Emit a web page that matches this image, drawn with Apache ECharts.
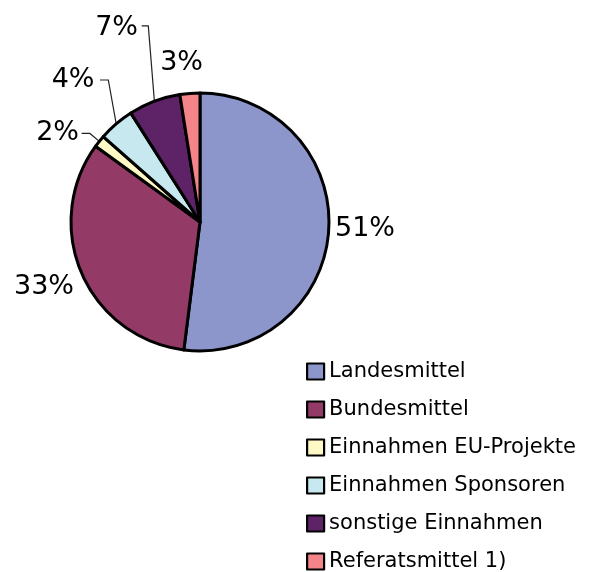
<!DOCTYPE html>
<html>
<head>
<meta charset="utf-8">
<script src="https://cdn.jsdelivr.net/npm/echarts@6/dist/echarts.min.js"></script>
<style>
html,body{margin:0;padding:0;background:#fff;}
#chart{width:600px;height:572px;}
</style>
</head>
<body>
<div id="chart"></div>
<script>
// ---- data ----
var categories = ['Landesmittel', 'Bundesmittel', 'Einnahmen EU-Projekte', 'Einnahmen Sponsoren', 'sonstige Einnahmen', 'Referatsmittel 1)'];
var values = [52.0, 33.0, 1.5, 4.5, 6.5, 2.5];
var percentLabels = ['51%', '33%', '2%', '4%', '7%', '3%'];

// ---- styling / layout ----
var colors = ['#8C96CB', '#933A66', '#FFF9C6', '#C6E8EE', '#5D2366', '#F3848A'];
var labelLayoutCfg = [
  { x: 335, y: 229, align: 'left' },
  { x: 74, y: 287, align: 'right' },
  { x: 79, y: 133, align: 'right', line: [-9.4, -7.9, -17.7] },
  { x: 94.5, y: 80, align: 'right', line: [-7.9, -43.9, -16.2] },
  { x: 138, y: 27.5, align: 'right', line: [-6.1, -75.4, -12.7] },
  { x: 203, y: 62.5, align: 'right' }
];
var FONT = 'DejaVu Sans';

var chart = echarts.init(document.getElementById('chart'), null, { renderer: 'canvas' });

var seriesData = categories.map(function (name, i) {
  var hasLine = !!labelLayoutCfg[i].line;
  return {
    name: name,
    value: values[i],
    itemStyle: { color: colors[i] },
    label: { formatter: percentLabels[i] },
    labelLine: { show: hasLine }
  };
});

chart.setOption({
  animation: false,
  backgroundColor: '#fff',
  legend: {
    orient: 'vertical',
    left: 306,
    top: 361,
    height: 240,
    padding: 0,
    itemWidth: 17,
    itemHeight: 16,
    itemGap: 17,
    icon: 'rect',
    itemStyle: { borderColor: '#000', borderWidth: 2.2 },
    textStyle: { fontFamily: FONT, fontSize: 21, color: '#000' },
    data: categories
  },
  series: [{
    type: 'pie',
    center: [200, 222],
    radius: 129,
    startAngle: 90,
    clockwise: true,
    avoidLabelOverlap: false,
    itemStyle: { borderColor: '#000', borderWidth: 3 },
    label: {
      show: true,
      position: 'outside',
      fontFamily: FONT,
      fontSize: 27,
      color: '#000'
    },
    labelLine: {
      length: 5,
      length2: 5,
      lineStyle: { color: '#222', width: 1.2 }
    },
    emphasis: { disabled: true },
    labelLayout: function (params) {
      var cfg = labelLayoutCfg[params.dataIndex];
      var res = { x: cfg.x, y: cfg.y, align: cfg.align, verticalAlign: 'middle' };
      if (cfg.line && params.labelLinePoints && params.labelLinePoints.length) {
        var p0 = params.labelLinePoints[0];
        res.labelLinePoints = [
          [p0[0], p0[1]],
          [p0[0] + cfg.line[0], p0[1] + cfg.line[1]],
          [p0[0] + cfg.line[2], p0[1] + cfg.line[1]]
        ];
      }
      return res;
    },
    data: seriesData
  }]
});
</script>
</body>
</html>
